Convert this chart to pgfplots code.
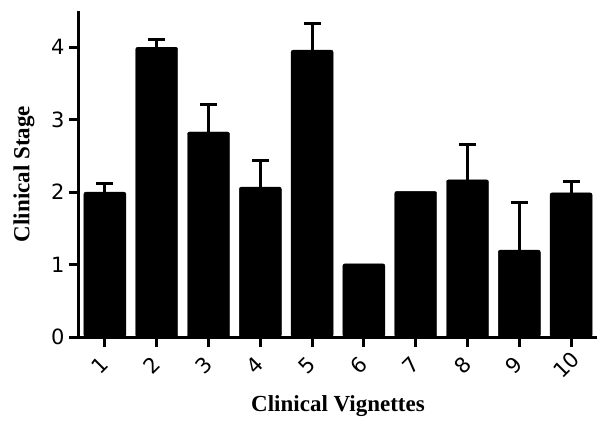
\documentclass[border=0pt]{standalone}
\usepackage{fontspec}
\setmainfont{Liberation Serif}
\newfontfamily\ticksans{DejaVu Sans}
\usepackage{pgfplots}
\pgfplotsset{compat=1.18}
\begin{document}
\begin{tikzpicture}
\begin{axis}[
  scale only axis,
  width=518bp, height=326bp,
  xmin=0.5, xmax=10.5,
  ymin=0, ymax=4.5,
  axis x line*=bottom, axis y line*=left,
  axis line style={line width=3bp},
  xtick={1,...,10},
  ytick={0,1,2,3,4},
  tick align=outside,
  major tick length=10bp,
  tick style={line width=3bp, black},
  /pgf/number format/assume math mode=true,
  ticklabel style={font=\ticksans\fontsize{21bp}{24bp}\selectfont},
  xticklabel style={anchor=center, xshift=-5bp, yshift=-18bp, rotate=45},
  yticklabel style={xshift=-1bp},
  every axis x label/.style={at={(axis description cs:0.5,0)}, anchor=center, yshift=-69bp},
  every axis y label/.style={at={(axis description cs:0,0.5)}, xshift=-55bp, rotate=90, anchor=center},
  xlabel={\textbf{Clinical Vignettes}},
  ylabel={\textbf{Clinical Stage}},
  label style={font=\fontsize{23bp}{26bp}\selectfont},
  ybar, bar width=42bp, bar shift=0pt,
  clip=false,
]
\addplot[fill=black, draw=black, rounded corners=2bp,
  error bars/.cd, y dir=plus, y explicit,
  error bar style={line width=3bp, black, sharp corners},
  error mark options={rotate=90, mark size=8.5bp, line width=3bp, black}]
coordinates {
 (1,2.00) +- (0,0.12)
 (2,4.00) +- (0,0.11)
 (3,2.83) +- (0,0.38)
 (4,2.07) +- (0,0.36)
 (5,3.96) +- (0,0.37)
 (8,2.17) +- (0,0.49)
 (9,1.20) +- (0,0.65)
 (10,1.99) +- (0,0.15)
};
\addplot[fill=black, draw=black, rounded corners=2bp]
coordinates {
 (6,1.01)
 (7,2.01)
};
\end{axis}
\pgfresetboundingbox
\path[use as bounding box] (-79bp,-87bp) rectangle (518bp,337bp);
\end{tikzpicture}
\end{document}
